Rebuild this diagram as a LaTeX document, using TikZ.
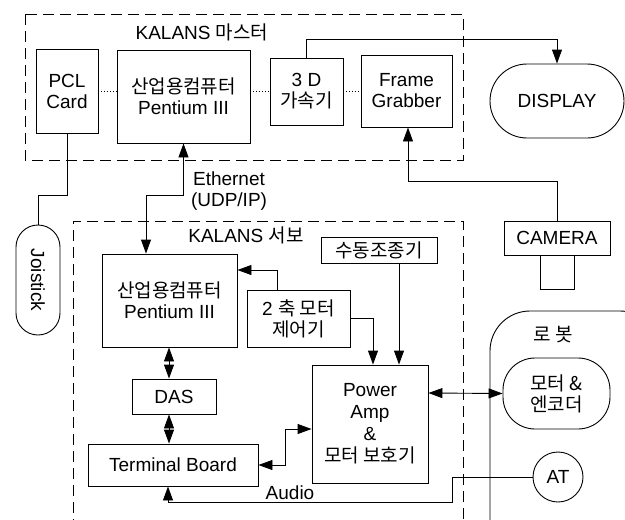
\documentclass[tikz,border=0pt]{standalone}
\usepackage{fontspec}
\setmainfont{Liberation Sans}
\newfontfamily\krfont{Noto Sans CJK KR}
\newcommand{\kr}[1]{{\krfont #1}}
\usetikzlibrary{arrows.meta}

\begin{document}
\begin{tikzpicture}[x=1pt, y=-1pt, line width=0.9pt, >={Triangle[length=14pt,width=10pt]},
    font=\fontsize{19}{21}\selectfont,
    block/.style={draw, inner sep=0pt, align=center},
    frame/.style={dashed, dash pattern=on 11pt off 6pt},
    link/.style={dotted, line width=1pt}]
    \useasboundingbox (0,0) rectangle (625,520);
    % KALANS master
    \draw[frame] (25,14) rectangle (463,160);
    \node (mtitle) at (202,32) {KALANS \kr{마스터}};
    \node[block, minimum width=62, minimum height=84] (pcl) at (67,91) {PCL\\Card};
    \node[block, minimum width=133, minimum height=93] (mpc) at (183.5,96.5) {\kr{산업용컴퓨터}\\Pentium III};
    \node[block, minimum width=73, minimum height=67] (acc) at (306.5,91.5) {3 D\\\kr{가속기}};
    \node[block, minimum width=91, minimum height=72] (fg) at (406.5,91) {Frame\\Grabber};
    \draw[link] (pcl.east) -- (pcl.east -| mpc.west);
    \draw[link] (acc.west -| mpc.east) -- (acc.west);
    \draw[link] (acc.east) -- (acc.east -| fg.west);
    % outside devices
    \node[block, rounded corners=37, minimum width=134, minimum height=74] (disp) at (557,101) {DISPLAY};
    \node[block, minimum width=106, minimum height=34] (cam) at (557,238) {CAMERA};
    \node[block, minimum width=34, minimum height=34] (lens) at (557,272) {};
    \node[block, rotate=-90, rounded corners=22, minimum width=110, minimum height=44] (joy) at (38,280) {Joistick};
    \draw[->] (acc.north) -- ++(0,-18) -| (disp.north);
    \draw[->] (cam.north) -- ++(0,-39) -| ([xshift=1.5pt]fg.south);
    \draw (pcl.south) -- ++(0,62) -| (joy.west);
    % KALANS servo
    \draw[frame] (73,530) -- (73,221) -- (463,221) -- (463,530);
    \node (stitle) at (246,235) {KALANS \kr{서보}};
    \node[block, minimum width=135, minimum height=93] (spc) at (169.5,300.5) {\kr{산업용컴퓨터}\\Pentium III};
    \node[block, minimum width=103, minimum height=57] (axis) at (298.5,318.5) {2 \kr{축 모터}\\\kr{제어기}};
    \node[block, minimum width=116, minimum height=26] (man) at (379,250) {\kr{수동조종기}};
    \node[block, minimum width=116, minimum height=118, font=\fontsize{19}{22}\selectfont] (pa) at (370,424) {Power\\Amp\\\&\\\kr{모터 보호기}};
    \node[block, minimum width=84, minimum height=35] (das) at (174,396.5) {DAS};
    \node[block, minimum width=170, minimum height=42] (tb) at (173,465) {Terminal Board};
    \draw[->] ([xshift=-21.5pt]axis.north) |- ([yshift=30.5pt]spc.east);
    \draw[->] (axis.east) -| ([xshift=3pt]pa.north);
    \draw[->] ([xshift=20pt]man.south) -- ([xshift=29pt]pa.north);
    \draw[<->] ([xshift=-0.5pt]spc.south) -- ([xshift=-0.5pt]spc.south |- das.north);
    \draw[<->] ([xshift=-0.5pt]spc.south |- das.south) -- ([xshift=-0.5pt]spc.south |- tb.north);
    \draw[<->] (tb.east) -- ++(27,0) |- ([yshift=-5pt]pa.west);
    % Ethernet
    \draw[<->] (mpc.south) -- ++(0,52) -| ([xshift=-23.5pt]spc.north);
    \node[align=center] (eth) at (229,191) {Ethernet\\(UDP/IP)};
    % robot
    \draw[rounded corners=40] (490,311) rectangle (660,570);
    \node (rtitle) at (553,335) {\kr{로 봇}};
    \node[block, rounded corners=32, minimum width=107, minimum height=71] (mot) at (556.5,393.5) {\kr{모터 \&}\\\kr{엔코더}};
    \node[block, circle, minimum size=50] (at) at (558,477) {AT};
    \draw[<->] ([yshift=31pt]pa.east) -- (mot.west);
    \draw[->] (at.west) -- ++(-80,0) -- ++(0,25) -| ([xshift=-5pt]tb.south);
    \node (audio) at (290,493) {Audio};
\end{tikzpicture}
\end{document}
